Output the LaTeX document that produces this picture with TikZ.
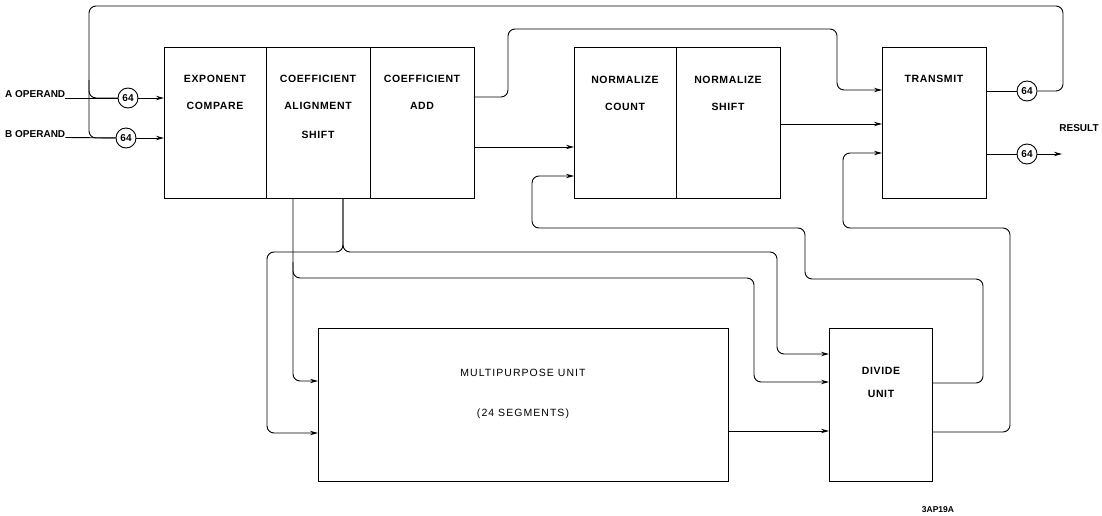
\documentclass[tikz,border=0pt]{standalone}
\usepackage{fontspec}
\setmainfont{Liberation Sans}
\usetikzlibrary{arrows.meta,calc}
\begin{document}
\begin{tikzpicture}[x=1pt,y=-1pt,
  box/.style={draw,line width=1.2pt,inner sep=0pt},
  wire/.style={line width=0.9pt,rounded corners=7pt},
  arr/.style={wire,-{Stealth[length=8pt,width=4.4pt]}},
  lbl/.style={font=\fontsize{10.5}{12}\selectfont\bfseries\addfontfeatures{LetterSpace=6},align=center,inner sep=0pt,anchor=north},
  thin/.style={font=\fontsize{10.5}{12}\selectfont\addfontfeatures{LetterSpace=10},align=center,inner sep=0pt,anchor=north},
  side/.style={font=\fontsize{10}{12}\selectfont\bfseries,inner sep=0pt},
  ring/.style={draw,circle,line width=0.9pt,minimum size=20pt,inner sep=0pt,font=\fontsize{10}{11}\selectfont\bfseries,fill=white},
]
\useasboundingbox (0,0) rectangle (1102,516);

% blocks
\node[box,minimum width=102pt,minimum height=151pt,anchor=north west] (b1a) at (164,47) {};
\node[box,minimum width=104pt,minimum height=151pt,anchor=north west] (b1b) at (266,47) {};
\node[box,minimum width=104pt,minimum height=151pt,anchor=north west] (b1c) at (370,47) {};
\node[box,minimum width=102pt,minimum height=151pt,anchor=north west] (na) at (574,47) {};
\node[box,minimum width=104pt,minimum height=151pt,anchor=north west] (nb) at (676,47) {};
\node[box,minimum width=104pt,minimum height=151pt,anchor=north west] (tr) at (882,47) {};
\node[box,minimum width=410pt,minimum height=153pt,anchor=north west] (mp) at (318,328) {};
\node[box,minimum width=103pt,minimum height=153pt,anchor=north west] (dv) at (829,328) {};

% block texts
\node[lbl] (t1) at (215,75) {EXPONENT\\[15pt]COMPARE};
\node[lbl] (t2) at (318,75) {COEFFICIENT\\[15pt]ALIGNMENT\\[17pt]SHIFT};
\node[lbl] (t3) at (422,75) {COEFFICIENT\\[15pt]ADD};
\node[lbl] (t4) at (625,76) {NORMALIZE\\[15pt]COUNT};
\node[lbl] (t5) at (728,76) {NORMALIZE\\[15pt]SHIFT};
\node[lbl] (t6) at (934,75) {TRANSMIT};
\node[thin] (t7) at (523,369) {MULTIPURPOSE UNIT\\[28pt](24 SEGMENTS)};
\node[lbl] (t8) at (881,367) {DIVIDE\\[11pt]UNIT};

% operands
\node[side,anchor=base west] (tA) at (5,98) {A OPERAND};
\node[side,anchor=base west] (tB) at (5,137.5) {B OPERAND};
\node[ring] (cA) at (128,98) {64};
\node[ring] (cB) at (126,138) {64};
\draw[wire] (tA.base east) -- (cA);
\draw[wire] (tB.base east) -- (cB);
\draw[arr] (cA) -- (b1a.west |- cA);
\draw[arr] (cB) -- (b1a.west |- cB);

% transmit outputs
\node[ring] (c1) at (1027,91) {64};
\node[ring] (c2) at (1027,154) {64};
\coordinate (res) at (1062,154);
\node[side] (result) at (1079,128) {RESULT};
\draw[wire] ([yshift=-44pt]tr.north east) -- (c1);
\draw[wire] ([yshift=-107pt]tr.north east) -- (c2);
\draw[arr] (c2) -- (res);

% feedback to operands
\draw[wire] (c1) -| (1063,6) -| (89,138) -- (cB);
\draw[wire] (89,80) |- (cA);

% block 1 outputs
\draw[arr] ([yshift=-50pt]b1c.north east) -| (508,29) -| (837,90) -- ([yshift=-43pt]tr.north west);
\draw[arr] ([yshift=-100pt]b1c.north east) -- ([yshift=-100pt]na.north west);
\draw[arr] ([yshift=-77pt]nb.north east) -- ([yshift=-77pt]tr.north west);

% alignment shift outputs
\draw[arr] ([xshift=27pt]b1b.south west) |- ([yshift=-53pt]mp.north west);
\draw[arr] (293,262) |- (754,278) |- ([yshift=-54pt]dv.north west);
\draw[arr] ([xshift=77pt]b1b.south west) |- (267,252) |- ([yshift=-105pt]mp.north west);
\draw[arr] ([xshift=77pt]b1b.south west) |- (777,252) |- ([yshift=-26pt]dv.north west);

% multipurpose to divide
\draw[arr] ([yshift=-103pt]mp.north east) -- ([yshift=-103pt]dv.north west);

% divide outputs
\draw[arr] ([yshift=-55pt]dv.north east) -| (983,279) -| (805,228) -| (532,176) -- ([yshift=-129pt]na.north west);
\draw[arr] ([yshift=-104pt]dv.north east) -| (1010,228) -| (843,153) -- ([yshift=-106pt]tr.north west);

\node[font=\fontsize{8.5}{10}\selectfont\bfseries] (code) at (938,510) {3AP19A};
\end{tikzpicture}
\end{document}
